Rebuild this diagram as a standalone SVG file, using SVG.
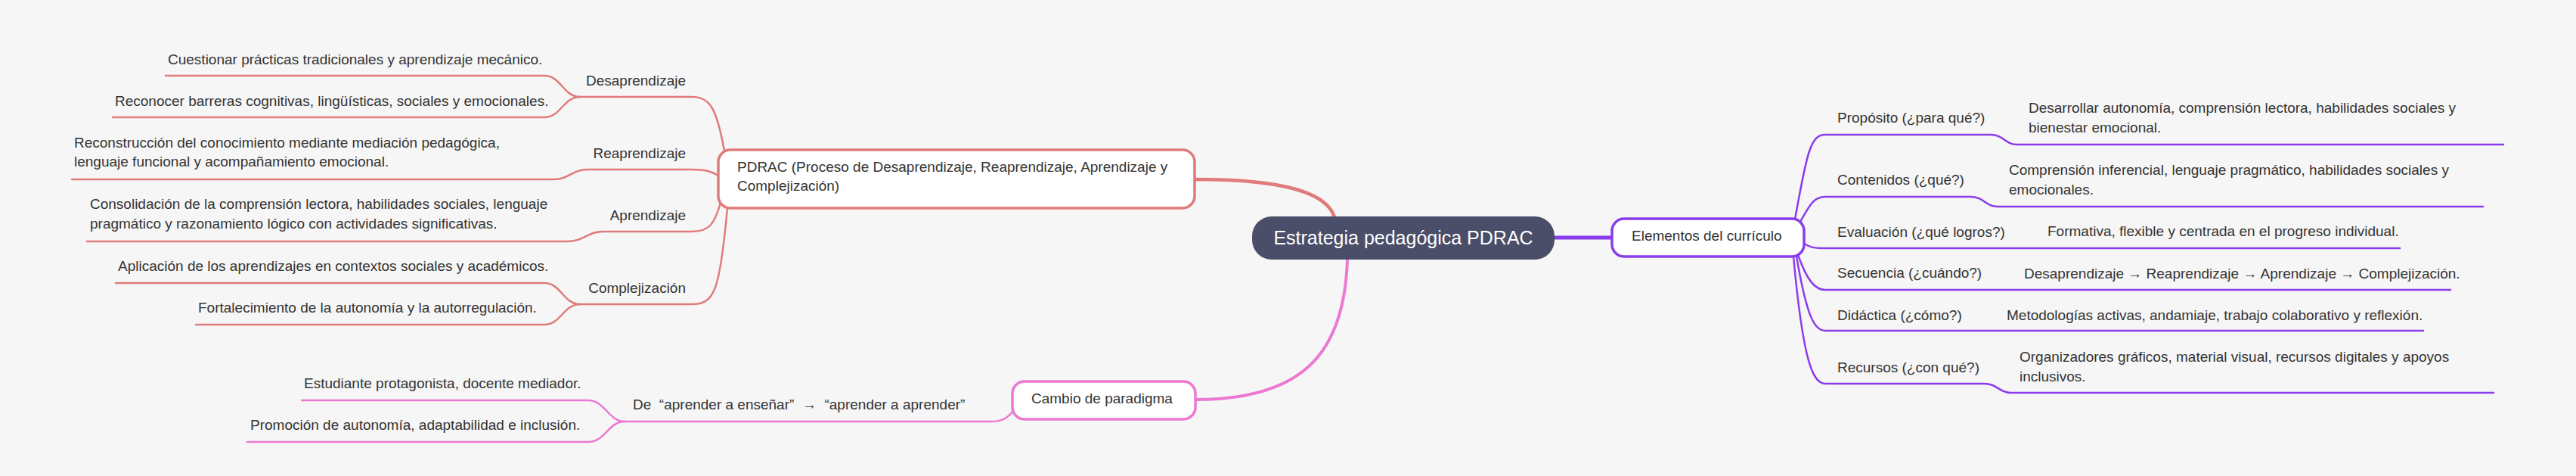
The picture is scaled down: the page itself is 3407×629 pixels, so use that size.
<svg xmlns="http://www.w3.org/2000/svg" width="3407" height="629" viewBox="0 0 3407 629">
<style>
text{font-family:"Liberation Sans",Arial,sans-serif;font-size:19px;fill:#333333;white-space:pre}
.end{text-anchor:end}
.red{fill:none;stroke:#E07B7B;stroke-width:2.5;stroke-linecap:round}
.pink{fill:none;stroke:#EC78D2;stroke-width:2.5;stroke-linecap:round}
.pur{fill:none;stroke:#8A3CEB;stroke-width:2.5;stroke-linecap:round}
.nodebox{fill:#FFFFFF;stroke-width:3.5}
</style>
<rect width="3407" height="629" fill="#F6F6F6"/>
<g id="connectors">
  <path class="red" d="M 958 199 C 948 145, 940 128, 915 128 L 767 128"/>
  <path class="red" d="M 767 128 C 745 128, 742 100, 720 100 L 219 100"/>
  <path class="red" d="M 767 128 C 745 128, 742 155, 720 155 L 149 155"/>
  <path class="red" d="M 950 232 C 940 226, 932 224, 915 224 L 777 224 C 757 224, 752 237, 733 237 L 95 237"/>
  <path class="red" d="M 953 268 C 945 296, 938 306, 915 306 L 797 306 C 777 306, 772 319, 750 319 L 115 319"/>
  <path class="red" d="M 962 275 C 952 385, 945 402, 915 402 L 767 402"/>
  <path class="red" d="M 767 402 C 745 402, 742 374, 720 374 L 153 374"/>
  <path class="red" d="M 767 402 C 745 402, 742 429, 720 429 L 259 429"/>
  <path class="red" style="stroke-width:4.5" d="M 1580 237 C 1700 237, 1755 255, 1765 287"/>
  <path class="pink" style="stroke-width:4" d="M 1782 343 C 1778 470, 1720 528, 1581 528"/>
  <path class="pink" d="M 1340 543 C 1332 553, 1325 557, 1311 557 L 826 557"/>
  <path class="pink" d="M 826 557 C 805 557, 800 529, 778 529 L 399 529"/>
  <path class="pink" d="M 826 557 C 805 557, 800 584, 778 584 L 327 584"/>
  <path class="pur" style="stroke-width:5" d="M 2056 314 L 2132 314"/>
  <path class="pur" d="M 2374 290 C 2390 200, 2395 178, 2414 178 L 2633 178 C 2650 178, 2652 191, 2668 191 L 3311 191"/>
  <path class="pur" d="M 2381 293 C 2395 268, 2400 260, 2414 260 L 2606 260 C 2624 260, 2626 273, 2642 273 L 3284 273"/>
  <path class="pur" d="M 2386 322 C 2395 327, 2400 328, 2409 328 L 3174 328"/>
  <path class="pur" d="M 2378 337 C 2390 370, 2400 383, 2414 383 L 3241 383"/>
  <path class="pur" d="M 2376 339 C 2390 420, 2400 437, 2414 437 L 3205 437"/>
  <path class="pur" d="M 2372 339 C 2385 480, 2398 507, 2414 507 L 2624 507 C 2642 507, 2644 519, 2659 519 L 3298 519"/>
</g>
<g id="central">
  <rect x="1656" y="286" width="400" height="57" rx="26" fill="#4A4E69"/>
  <text x="1856" y="323" style="font-size:25px;fill:#FFFFFF;text-anchor:middle">Estrategia pedagógica PDRAC</text>
</g>
<g id="pdrac">
  <rect class="nodebox" x="950" y="198" width="630" height="77" rx="16" stroke="#E07B7B"/>
  <text x="975" y="227">PDRAC (Proceso de Desaprendizaje, Reaprendizaje, Aprendizaje y</text>
  <text x="975" y="252">Complejización)</text>
</g>
<g id="desaprendizaje">
  <text class="end" x="907" y="113">Desaprendizaje</text>
</g>
<g id="cuestionar"><text x="222" y="85">Cuestionar prácticas tradicionales y aprendizaje mecánico.</text></g>
<g id="reconocer"><text x="152" y="140">Reconocer barreras cognitivas, lingüísticas, sociales y emocionales.</text></g>
<g id="reaprendizaje"><text class="end" x="907" y="209">Reaprendizaje</text></g>
<g id="reconstruccion">
  <text x="98" y="195">Reconstrucción del conocimiento mediante mediación pedagógica,</text>
  <text x="98" y="220">lenguaje funcional y acompañamiento emocional.</text>
</g>
<g id="aprendizaje"><text class="end" x="907" y="291">Aprendizaje</text></g>
<g id="consolidacion">
  <text x="119" y="276">Consolidación de la comprensión lectora, habilidades sociales, lenguaje</text>
  <text x="119" y="302">pragmático y razonamiento lógico con actividades significativas.</text>
</g>
<g id="complejizacion"><text class="end" x="907" y="387">Complejización</text></g>
<g id="aplicacion"><text x="156" y="358">Aplicación de los aprendizajes en contextos sociales y académicos.</text></g>
<g id="fortalecimiento"><text x="262" y="413">Fortalecimiento de la autonomía y la autorregulación.</text></g>
<g id="cambio">
  <rect class="nodebox" x="1339" y="504" width="242" height="50" rx="16" stroke="#EC78D2"/>
  <text x="1364" y="533">Cambio de paradigma</text>
</g>
<g id="de-aprender"><text x="837" y="541">De  “aprender a enseñar”  →  “aprender a aprender”</text></g>
<g id="estudiante"><text x="402" y="513">Estudiante protagonista, docente mediador.</text></g>
<g id="promocion"><text x="331" y="568">Promoción de autonomía, adaptabilidad e inclusión.</text></g>
<g id="elementos">
  <rect class="nodebox" x="2132" y="289" width="254" height="50" rx="16" stroke="#8A3CEB"/>
  <text x="2158" y="318">Elementos del currículo</text>
</g>
<g id="proposito"><text x="2430" y="162">Propósito (¿para qué?)</text></g>
<g id="desarrollar">
  <text x="2683" y="149">Desarrollar autonomía, comprensión lectora, habilidades sociales y</text>
  <text x="2683" y="175">bienestar emocional.</text>
</g>
<g id="contenidos"><text x="2430" y="244">Contenidos (¿qué?)</text></g>
<g id="comprension">
  <text x="2657" y="231">Comprensión inferencial, lenguaje pragmático, habilidades sociales y</text>
  <text x="2657" y="257">emocionales.</text>
</g>
<g id="evaluacion"><text x="2430" y="313">Evaluación (¿qué logros?)</text></g>
<g id="formativa"><text x="2708" y="312">Formativa, flexible y centrada en el progreso individual.</text></g>
<g id="secuencia"><text x="2430" y="367">Secuencia (¿cuándo?)</text></g>
<g id="secuencia-detalle"><text x="2677" y="368">Desaprendizaje → Reaprendizaje → Aprendizaje → Complejización.</text></g>
<g id="didactica"><text x="2430" y="423">Didáctica (¿cómo?)</text></g>
<g id="metodologias"><text x="2654" y="423">Metodologías activas, andamiaje, trabajo colaborativo y reflexión.</text></g>
<g id="recursos"><text x="2430" y="492">Recursos (¿con qué?)</text></g>
<g id="organizadores">
  <text x="2671" y="478">Organizadores gráficos, material visual, recursos digitales y apoyos</text>
  <text x="2671" y="504">inclusivos.</text>
</g>
</svg>
